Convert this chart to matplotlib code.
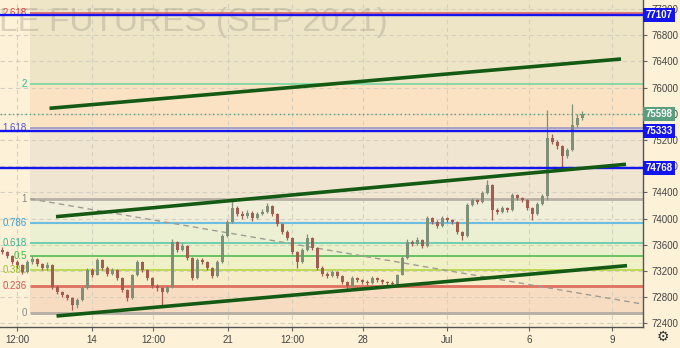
import numpy as np
import matplotlib.pyplot as plt
import matplotlib.transforms as mtransforms

plt.rcParams['font.family'] = ['Liberation Sans', 'DejaVu Sans']

## candles, one per bar (x = bar index)
first_open = 73520
closes = [73490, 73430, 73335, 73290, 73185, 73335, 73380, 73305, 73245, 73290,
          72955, 72880, 72830, 72785, 72680, 72755, 72940, 73215, 73140, 73365,
          73245, 73155, 73215, 73090, 72910, 72785, 73140, 73335, 73215, 73090,
          72970, 72940, 72880, 72955, 73640, 73520, 73580, 73395, 73090, 73365,
          73335, 73245, 73120, 73335, 73735, 73945, 74160, 74070, 74040, 74085,
          74010, 74070, 74100, 74190, 74070, 73915, 73795, 73700, 73490, 73335,
          73520, 73700, 73550, 73245, 73155, 73120, 73185, 73120, 73030, 72970,
          73090, 73060, 73030, 73015, 73090, 73060, 73030, 73015, 73000, 73140,
          73395, 73640, 73610, 73670, 73580, 74010, 73945, 73885, 74010, 73980,
          73945, 73795, 73735, 74205, 74285, 74255, 74390, 74510, 74130, 74100,
          74160, 74130, 74360, 74315, 74285, 74160, 74070, 74220, 74345, 75230,
          75170, 75105, 74955, 75045, 75430, 75535, 75598]
highs = [73560, 73510, 73450, 73360, 73300, 73360, 73420, 73400, 73320, 73330,
         73300, 72980, 72900, 72850, 72800, 72780, 72960, 73240, 73250, 73400,
         73380, 73270, 73240, 73230, 73100, 72930, 73160, 73370, 73350, 73230,
         73110, 73000, 72960, 72990, 73680, 73660, 73620, 73600, 73410, 73390,
         73400, 73350, 73260, 73360, 73760, 73980, 74280, 74190, 74110, 74130,
         74110, 74100, 74140, 74240, 74200, 74080, 73930, 73820, 73710, 73500,
         73550, 73760, 73720, 73560, 73270, 73190, 73220, 73200, 73140, 73050,
         73120, 73110, 73080, 73060, 73120, 73110, 73080, 73050, 73040, 73160,
         73420, 73680, 73670, 73710, 73690, 74040, 74030, 73970, 74040, 74030,
         74000, 73960, 73810, 74230, 74320, 74300, 74420, 74590, 74520, 74160,
         74190, 74180, 74390, 74380, 74330, 74300, 74180, 74250, 74380, 75650,
         75290, 75200, 75120, 75080, 75750, 75600, 75640]
lows = [73460, 73400, 73300, 73250, 73150, 73170, 73310, 73280, 73210, 73220,
        72920, 72850, 72800, 72750, 72600, 72640, 72740, 72930, 73110, 73130,
        73220, 73120, 73130, 73060, 72880, 72740, 72770, 73120, 73190, 73060,
        72940, 72900, 72680, 72860, 72940, 73490, 73500, 73360, 73060, 73080,
        73300, 73210, 73090, 73110, 73320, 73720, 73930, 74040, 73990, 74010,
        73960, 73990, 74050, 74080, 74040, 73890, 73760, 73670, 73460, 73240,
        73320, 73500, 73520, 73210, 73120, 73090, 73100, 73090, 73000, 72910,
        72960, 73030, 73000, 72990, 73000, 73030, 73000, 72990, 72970, 72990,
        73130, 73380, 73580, 73590, 73550, 73570, 73920, 73850, 73870, 73950,
        73920, 73760, 73670, 73720, 74190, 74220, 74240, 74380, 73980, 74070,
        74080, 74100, 74120, 74290, 74250, 74130, 73980, 74050, 74200, 74280,
        75140, 75060, 74790, 74930, 75030, 75400, 75500]

## time axis
tick_pos = [3, 18, 30.2, 45.2, 58, 72.2, 89, 105.4, 122]
tick_lab = ['12:00', '14', '12:00', '21', '12:00', '28', 'Jul', '6', '9']

## fibonacci (drawn from bar 5.6)
fib_low, fib_high = 72550, 74300
fib_start = 5.6
fib_ratios = [0, 0.236, 0.382, 0.5, 0.618, 0.786, 1, 1.618, 2, 2.618]
fib_names = ['0', '0.236', '0.382', '0.5', '0.618', '0.786', '1', '1.618', '2', '2.618']
fib_line_col = ['#b3ada3', '#e07060', '#b8d84a', '#5cc05c', '#5cc8a8', '#6cbfe0',
                '#b9b1a6', '#9a98c8', '#7ed8a8', '#e06060']
fib_text_col = ['#888888', '#d9534a', '#9cc22c', '#3db83d', '#35b88f', '#3a9fd4',
                '#888888', '#5555cc', '#33bb99', '#d9434a']
fib_lw = [2, 2, 1.3, 1.3, 1.2, 1.5, 2, 1.2, 1.3, 1.2]
fib_fill = ['#f8dcc2', '#f6edc8', '#eff0c6', '#eaf0cb', '#ebf0d3', '#f0eed8',
            '#efe5d1', '#fbe2c3', '#ede5c6', '#ede5c6']

## blue levels, last price
levels = [77107, 75333, 74768]
last_price = 75598

## trend lines (bar, price)
trend_x = [[9.5, 123.8], [10.8, 124.8], [10.9, 125.0]]
trend_y = [[75683, 76436], [74028, 74828], [72511, 73280]]
diag_x = [5.6, 128.2]
diag_y = [74300, 72692]

bg = '#fdf1d7'
fig = plt.figure(figsize=(6.8, 3.48), dpi=100)
fig.patch.set_facecolor(bg)
ax = fig.add_axes([0, 21 / 348, 643 / 680, 327 / 348])
ax.set_facecolor(bg)
ax.set_xlim(-0.4, 128.2)
ax.set_ylim(72343, 77337)

# fib zones + lines + labels
fib_prices = [fib_low + r * (fib_high - fib_low) for r in fib_ratios]
tops = fib_prices[1:] + [77400]
for lo, hi, c in zip(fib_prices, tops, fib_fill):
    ax.fill_between([fib_start, 130], lo, hi, color=c, lw=0, zorder=0.2)
for p, name, lc, tc, lw in zip(fib_prices, fib_names, fib_line_col, fib_text_col, fib_lw):
    ax.hlines(p, fib_start, 130, color=lc, lw=lw, zorder=1)
    ax.text(5.0, p, name, ha='right', va='center', fontsize=7, color=tc, zorder=1.5)

ax.plot(diag_x, diag_y, color='#a09c94', lw=1, ls=(0, (4, 3)), zorder=1.2)

# watermark
ax.text(388 / 680, 1 - 31 / 348, 'LE FUTURES (SEP 2021)', transform=fig.transFigure,
        ha='right', va='baseline', fontsize=24, color='#8f887a', alpha=0.3, zorder=0.8)

# candles
x = np.arange(len(closes))
c = np.array(closes, dtype=float)
o = np.array([first_open] + closes[:-1], dtype=float)
up = c >= o
cols = np.where(up, '#7f8f78', '#a35d50')
ax.vlines(x, lows, highs, colors=cols, lw=0.9, zorder=3)
ax.bar(x, np.maximum(np.abs(c - o), 10), bottom=np.minimum(o, c), width=0.6,
       color=cols, zorder=4)

# lines on top
ax.axhline(last_price, color='#5aa07c', ls=(0, (1, 2)), lw=1, zorder=2)
for p in levels:
    ax.axhline(p, color='#1414f0', lw=1.7, zorder=5)
for tx, ty in zip(trend_x, trend_y):
    ax.plot(tx, ty, color='#145a14', lw=2.6, solid_capstyle='butt', zorder=6)

# axes
ax.yaxis.tick_right()
ax.set_yticks(np.arange(72400, 77201, 400))
ax.set_xticks(tick_pos, tick_lab)
ax.tick_params(axis='both', length=3, pad=3, labelsize=7, color='#666666',
               labelcolor='#444444')
ax.grid(True, color='#d6d0c0', ls=(0, (4, 3)), lw=0.8)
ax.set_axisbelow(True)
for s in ['top', 'left']:
    ax.spines[s].set_visible(False)
for s in ['right', 'bottom']:
    ax.spines[s].set_color('#555555')
    ax.spines[s].set_linewidth(1)

# price boxes on the right axis
trans = mtransforms.blended_transform_factory(ax.transAxes, ax.transData)
for p in levels:
    ax.text(1.004, p, str(p), transform=trans, ha='left', va='center', fontsize=7,
            color='white', fontweight='bold', clip_on=False, zorder=10,
            bbox=dict(boxstyle='square,pad=0.22', fc='#1414f0', ec='none'))
ax.text(1.004, last_price, str(last_price), transform=trans, ha='left', va='center',
        fontsize=7, color='white', fontweight='bold', clip_on=False, zorder=10,
        bbox=dict(boxstyle='square,pad=0.22', fc='#5a9e7e', ec='none'))

fig.text(663 / 680, 1 - 337 / 348, '\u2699', family='DejaVu Sans', fontsize=10,
         ha='center', va='center', color='#333333')

fig.savefig('out.png', dpi=100, facecolor=bg)
